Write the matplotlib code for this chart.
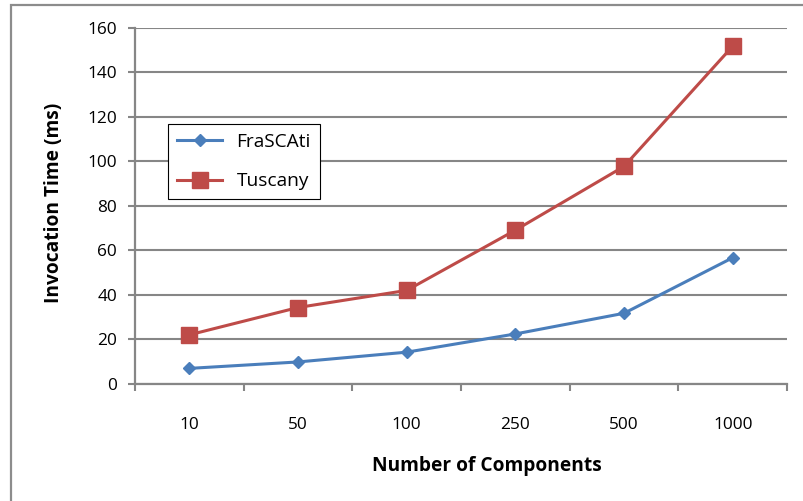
import matplotlib
matplotlib.use("Agg")
import matplotlib.pyplot as plt
from matplotlib.patches import Rectangle
from matplotlib.ticker import FixedLocator

categories = ["10", "50", "100", "250", "500", "1000"]
frascati = [6.8, 9.7, 14.1, 22.3, 31.6, 56.6]
tuscany = [21.9, 34.2, 41.9, 69.0, 97.7, 151.8]
yticks = [0, 20, 40, 60, 80, 100, 120, 140, 160]

plt.rcParams['font.family'] = ['Open Sans', 'DejaVu Sans']

W, H = 804, 501
fig = plt.figure(figsize=(W / 100, H / 100), dpi=100)
fig.patch.set_facecolor('white')

# outer chart border (cut off on right and bottom)
fig.patches.append(Rectangle((11 / W, -0.2), 1.2, (H - 5) / H + 0.2,
                             transform=fig.transFigure, fill=False,
                             edgecolor='#8c8c8c', linewidth=1.6))

left, right = 135 / W, 787 / W
bottom, top = (H - 383.5) / H, (H - 28) / H
ax = fig.add_axes([left, bottom, right - left, top - bottom])

grid_c = '#868686'
x = list(range(len(categories)))
ax.plot(x, frascati, color='#4A7EBB', linewidth=2.2, marker='D',
        markersize=6.6, label='FraSCAti', zorder=3)
ax.plot(x, tuscany, color='#BE4B48', linewidth=2.2, marker='s',
        markersize=11, label='Tuscany', zorder=3)

ax.set_xlim(-0.5, len(categories) - 0.5)
ax.set_ylim(0, 160)
ax.set_yticks(yticks)
ax.set_yticklabels([str(v) for v in yticks])
ax.yaxis.grid(True, color=grid_c, linewidth=1.5)
ax.set_axisbelow(True)

ax.set_xticks(x)
ax.set_xticklabels(categories)
ax.xaxis.set_minor_locator(FixedLocator([i - 0.5 for i in range(len(categories) + 1)]))
ax.tick_params(axis='x', which='major', length=0, pad=24, labelsize=12.4, colors='black')
ax.tick_params(axis='x', which='minor', length=5, width=1.5, color=grid_c, direction='out')
ax.tick_params(axis='y', length=5, width=1.5, color=grid_c, direction='out', pad=8,
               labelsize=12.4, labelcolor='black')

for s in ['top', 'right']:
    ax.spines[s].set_visible(False)
for s in ['left', 'bottom']:
    ax.spines[s].set_color(grid_c)
    ax.spines[s].set_linewidth(1.6)

fig.text(54 / W, 1 - 203 / H, 'Invocation Time (ms)', rotation=90, fontsize=13.8,
         fontweight='bold', ha='center', va='center')
fig.text(487 / W, 1 - 466 / H, 'Number of Components', fontsize=13.8,
         fontweight='bold', ha='center', va='center')

leg = ax.legend(loc='upper left', bbox_to_anchor=(168 / W, 1 - 124 / H),
                bbox_transform=fig.transFigure, frameon=True, fancybox=False,
                fontsize=13.8, handlelength=2.35, handletextpad=0.75,
                labelspacing=1.1, borderpad=0.48, borderaxespad=0)
leg.get_frame().set_edgecolor('black')
leg.get_frame().set_linewidth(0.8)
leg.get_frame().set_alpha(1)

fig.savefig('out.png', dpi=100, facecolor='white')
